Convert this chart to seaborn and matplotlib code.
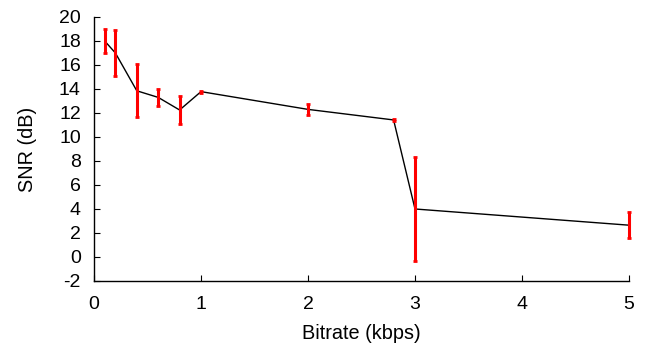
import matplotlib
matplotlib.use("Agg")
import matplotlib.pyplot as plt
import seaborn as sns
import pandas as pd

bitrate = [0.1, 0.2, 0.4, 0.6, 0.8, 1.0, 2.0, 2.8, 3.0, 5.0]
snr = [18.0, 17.0, 13.85, 13.3, 12.25, 13.78, 12.3, 11.42, 4.0, 2.65]
snr_err = [1.0, 1.95, 2.2, 0.7, 1.15, 0.08, 0.48, 0.08, 4.3, 1.08]
xticks = [0, 1, 2, 3, 4, 5]
yticks = list(range(-2, 21, 2))

sns.set_theme(style="white")
plt.rcParams['font.family'] = ['Liberation Sans', 'DejaVu Sans']

df = pd.DataFrame({"Bitrate": bitrate, "SNR": snr, "err": snr_err})

fig = plt.figure(figsize=(6.46, 3.46), dpi=100)
ax = fig.add_axes([0.1455, 0.1879, 0.9737 - 0.1455, 0.9509 - 0.1879])

sns.lineplot(data=df, x="Bitrate", y="SNR", ax=ax, color="black", linewidth=1.0,
             sort=False, estimator=None)
eb = ax.errorbar(df["Bitrate"], df["SNR"], yerr=df["err"], fmt="none", ecolor="red",
                 elinewidth=2.2, capsize=1.5, capthick=2.0, zorder=3)
for artist in list(eb.lines[1]) + list(eb.lines[2]):
    artist.set_clip_on(False)

ax.set_xlim(0, 5)
ax.set_ylim(-2, 20)
ax.set_xticks(xticks)
ax.set_yticks(yticks)
ax.set_xticklabels([str(v) for v in xticks])
ax.set_yticklabels([str(v) for v in yticks])
ax.set_xlabel("Bitrate (kbps)", fontsize=14.3, labelpad=8, color="black")
ax.set_ylabel("SNR (dB)", fontsize=14.3, labelpad=16, color="black")
ax.tick_params(axis="both", direction="in", length=4, width=0.8, labelsize=14,
               colors="black", bottom=True, left=True)
ax.tick_params(axis="x", pad=11)
ax.tick_params(axis="y", pad=9.5)
for s in ["top", "right"]:
    ax.spines[s].set_visible(False)
for s in ["left", "bottom"]:
    ax.spines[s].set_color("black")
    ax.spines[s].set_linewidth(1.0)

fig.savefig("out.png", dpi=100)
